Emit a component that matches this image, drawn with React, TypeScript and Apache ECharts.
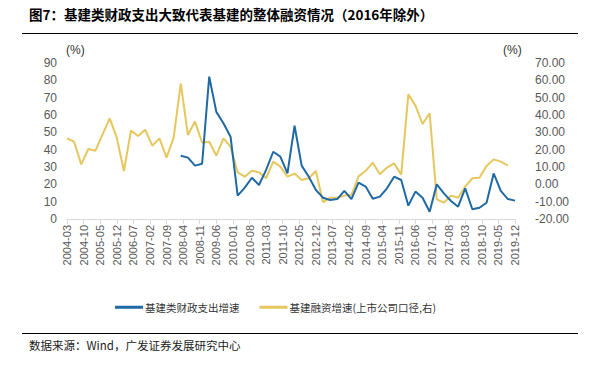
import React, { useEffect, useRef } from "react";
import * as echarts from "echarts";

// Monthly category axis 2004-03 .. 2019-12
const months: string[] = [];
for (let y = 2004, m = 3; y < 2020; ) {
  months.push(`${y}-${String(m).padStart(2, "0")}`);
  m++;
  if (m > 12) { m = 1; y++; }
}

// Quarterly series
const fiscalStart = "2008-03";
const fiscalValues = [
  36.5, 35.4, 30.8, 31.9,
  82.1, 61.8, 55.2, 47.5,
  13.5, 18.1, 23.8, 19.6,
  28.3, 38.8, 36.0, 26.3,
  53.8, 30.8, 24.4, 16.7,
  12.3, 11.0, 11.5, 16.2,
  11.5, 21.0, 18.7, 11.7,
  12.9, 17.7, 24.4, 22.5,
  7.7, 15.8, 12.3, 4.2,
  20.0, 14.8, 10.4, 7.1,
  17.7, 5.6, 6.5, 9.4,
  26.3, 16.2, 11.5, 10.6,
];

const financingStart = "2004-03";
const financingValues = [
  26.5, 24.6, 11.5, 20.4,
  19.4, 28.8, 38.1, 26.9,
  7.7, 31.0, 27.9, 31.5,
  22.3, 26.5, 15.4, 26.9,
  58.3, 28.5, 36.2, 24.0,
  24.6, 16.6, 26.5, 21.7,
  6.9, 4.4, 7.9, 6.9,
  3.5, 13.1, 10.2, 4.4,
  6.2, 2.5, 3.5, 7.7,
  -10.4, -7.7, -7.7, -6.5,
  -6.2, 4.6, 7.8, 12.5,
  5.8, 9.7, 12.1, 5.6,
  51.9, 45.4, 34.8, 41.0,
  -8.7, -10.6, -6.5, -7.7,
  -1.3, 3.5, 3.8, 10.6,
  14.4, 13.1, 10.8,
];

const leftTicks = { min: 0, max: 90, interval: 10 };
const rightTicks = { min: -20, max: 70, interval: 10 };

const seriesNames = ["基建类财政支出增速", "基建融资增速(上市公司口径,右)"];
const titleText = "图7：基建类财政支出大致代表基建的整体融资情况（2016年除外）";
const sourceText = "数据来源：Wind，广发证券发展研究中心";

function toQuarterly(start: string, values: number[]): [string, number][] {
  const idx = months.indexOf(start);
  return values.map((v, i) => [months[idx + i * 3], v]);
}

const BLUE = "#1f69a5";
const YELLOW = "#e6c75e";
const FONT = "'Liberation Sans', Arial, sans-serif";
const CJK = "'Noto Sans CJK SC', sans-serif";

export default function App() {
  const ref = useRef<HTMLDivElement>(null);
  useEffect(() => {
    if (!ref.current) return;
    const chart = echarts.init(ref.current, undefined, { renderer: "svg" });
    chart.setOption({
      animation: false,
      backgroundColor: "#ffffff",
      grid: { left: 67, right: 86, top: 63, height: 156, containLabel: false },
      legend: {
        left: 110,
        top: 297,
        icon: "rect",
        itemWidth: 28,
        itemHeight: 3,
        itemGap: 20,
        textStyle: { fontFamily: CJK, fontSize: 10.5, color: "#333333", padding: [0, 0, 0, -3] },
        data: seriesNames,
      },
      xAxis: {
        type: "category",
        data: months,
        boundaryGap: false,
        axisLine: { lineStyle: { color: "#d9d9d9", width: 1 } },
        axisTick: { interval: 6, length: 5, lineStyle: { color: "#d9d9d9" } },
        axisLabel: {
          interval: 6,
          rotate: 90,
          fontFamily: FONT,
          fontSize: 11,
          color: "#595959",
          margin: 6,
        },
        splitLine: { show: false },
      },
      yAxis: [
        {
          type: "value",
          ...leftTicks,
          axisLine: { show: false },
          axisTick: { show: false },
          splitLine: { show: false },
          axisLabel: { fontFamily: FONT, fontSize: 12, color: "#595959", margin: 10 },
        },
        {
          type: "value",
          ...rightTicks,
          axisLine: { show: false },
          axisTick: { show: false },
          splitLine: { show: false },
          axisLabel: {
            fontFamily: FONT,
            fontSize: 12,
            color: "#595959",
            margin: 20,
            formatter: (v: number) => v.toFixed(2),
          },
        },
      ],
      series: [
        {
          name: seriesNames[0],
          type: "line",
          yAxisIndex: 0,
          data: toQuarterly(fiscalStart, fiscalValues),
          showSymbol: false,
          symbol: "none",
          lineStyle: { color: BLUE, width: 2 },
          itemStyle: { color: BLUE },
          z: 3,
        },
        {
          name: seriesNames[1],
          type: "line",
          yAxisIndex: 1,
          data: toQuarterly(financingStart, financingValues),
          showSymbol: false,
          symbol: "none",
          lineStyle: { color: YELLOW, width: 2 },
          itemStyle: { color: YELLOW },
          z: 2,
        },
      ],
      graphic: [
        {
          type: "text",
          left: 29,
          top: 7,
          style: { text: titleText, font: `bold 13.5px ${CJK}`, fill: "#000000" },
        },
        {
          type: "line",
          shape: { x1: 22, y1: 33.5, x2: 578, y2: 33.5 },
          style: { stroke: "#000000", lineWidth: 1 },
        },
        {
          type: "text",
          left: 66,
          top: 44,
          style: { text: "(%)", font: `12px ${FONT}`, fill: "#333333" },
        },
        {
          type: "text",
          left: 503,
          top: 44,
          style: { text: "(%)", font: `12px ${FONT}`, fill: "#333333" },
        },
        {
          type: "line",
          shape: { x1: 22, y1: 333.5, x2: 578, y2: 333.5 },
          style: { stroke: "#000000", lineWidth: 1 },
        },
        {
          type: "text",
          left: 29,
          top: 339,
          style: { text: sourceText, font: `11.5px ${CJK}`, fill: "#1a1a1a" },
        },
      ],
    });
    return () => chart.dispose();
  }, []);
  return (
    <div
      ref={ref}
      style={{ position: "fixed", left: 0, top: 0, width: 601, height: 365 }}
    />
  );
}
